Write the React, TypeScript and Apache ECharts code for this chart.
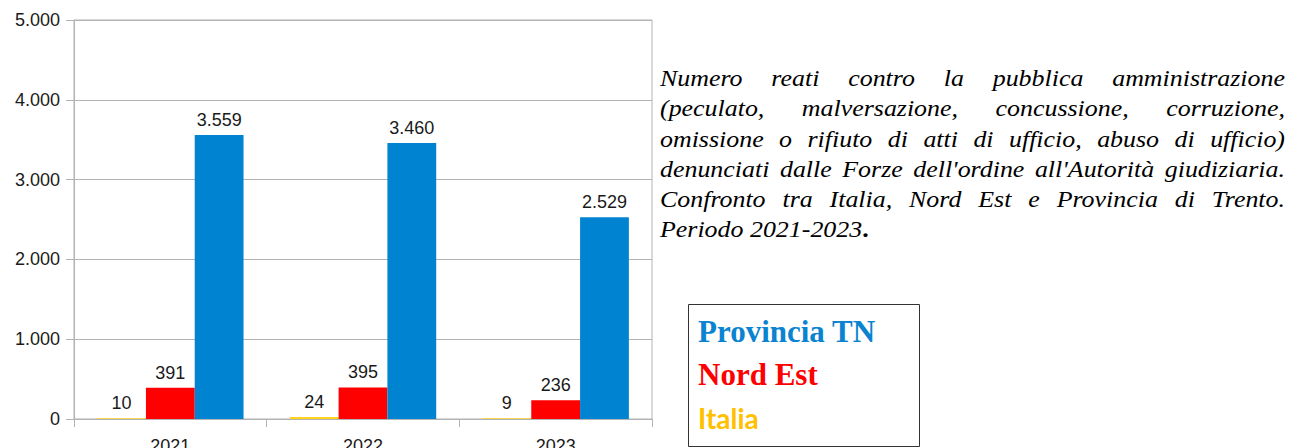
import React, { useEffect, useRef } from 'react';
import * as echarts from 'echarts';

const years = ['2021', '2022', '2023'];
const italia = [10, 24, 9];
const nordEst = [391, 395, 236];
const provinciaTN = [3559, 3460, 2529];
const yMin = 0;
const yMax = 5000;
const yInterval = 1000;

const captionLines = [
  'Numero reati contro la pubblica amministrazione',
  '(peculato, malversazione, concussione, corruzione,',
  'omissione o rifiuto di atti di ufficio, abuso di ufficio)',
  "denunciati dalle Forze dell'ordine all'Autorità giudiziaria.",
  'Confronto tra Italia, Nord Est e Provincia di Trento.',
  'Periodo 2021-2023',
];
const legendItems = [
  { text: 'Provincia TN', color: '#0a84d0', family: '"Liberation Serif", serif', size: 31, y: 331 },
  { text: 'Nord Est', color: '#ff0000', family: '"Liberation Serif", serif', size: 31, y: 374 },
  { text: 'Italia', color: '#ffc000', family: 'Lato, "Open Sans", sans-serif', size: 28, y: 418 },
];

const fmt = (v: number) => String(v).replace(/\B(?=(\d{3})+(?!\d))/g, '.');

function measure(text: string, font: string): number {
  const ctx = document.createElement('canvas').getContext('2d');
  if (!ctx) return text.length * 10;
  ctx.font = font;
  return ctx.measureText(text).width;
}

function buildCaption(): any[] {
  const els: any[] = [];
  const fontSize = 24;
  const sx = 1.08;
  const family = '"Liberation Serif", serif';
  const font = `italic ${fontSize}px "Liberation Serif"`;
  const left = 660;
  const right = 1285;
  const W = right - left;
  const y0 = 78;
  const step = 30.2;
  captionLines.forEach((line, i) => {
    const y = y0 + step * i;
    const last = i === captionLines.length - 1;
    if (last) {
      els.push({
        type: 'text', x: left, y, scaleX: sx,
        style: { text: line, fontSize, fontFamily: family, fontStyle: 'italic', fill: '#000', verticalAlign: 'middle' },
      });
      const w = measure(line, font) * sx;
      els.push({
        type: 'text', x: left + w, y, scaleX: sx,
        style: { text: '.', fontSize, fontFamily: family, fontWeight: 'bold', fill: '#000', verticalAlign: 'middle' },
      });
      return;
    }
    const words = line.split(' ');
    const widths = words.map((w) => measure(w, font) * sx);
    const total = widths.reduce((a, b) => a + b, 0);
    const gap = words.length > 1 ? (W - total) / (words.length - 1) : 0;
    let x = left;
    words.forEach((w, j) => {
      els.push({
        type: 'text', x, y, scaleX: sx,
        style: { text: w, fontSize, fontFamily: family, fontStyle: 'italic', fill: '#000', verticalAlign: 'middle' },
      });
      x += widths[j] + gap;
    });
  });
  return els;
}

export default function App() {
  const ref = useRef<HTMLDivElement>(null);
  useEffect(() => {
    if (!ref.current) return;
    const chart = echarts.init(ref.current, undefined, { renderer: 'svg' });
    const labelStyle = {
      show: true,
      position: 'top',
      distance: 6,
      fontSize: 18,
      fontFamily: '"Liberation Sans", Arial, sans-serif',
      color: '#1a1a1a',
      formatter: (p: any) => fmt(p.value),
    };
    const legendGraphics = [
      {
        type: 'rect',
        shape: { x: 688.5, y: 304.5, width: 231, height: 142 },
        style: { fill: '#fff', stroke: '#333', lineWidth: 1 },
      },
      ...legendItems.map((it) => ({
        type: 'text',
        x: 698,
        y: it.y,
        style: {
          text: it.text,
          fontSize: it.size,
          fontFamily: it.family,
          fontWeight: 'bold',
          fill: it.color,
          verticalAlign: 'middle',
        },
      })),
    ];
    chart.setOption({
      animation: false,
      backgroundColor: '#fff',
      grid: {
        left: 74, right: 637, top: 20, bottom: 29,
        containLabel: false,
        outerBoundsMode: 'none',
        show: true, borderColor: '#b3b3b3', borderWidth: 1,
      },
      xAxis: {
        type: 'category',
        data: years,
        boundaryGap: true,
        axisLine: { show: true, lineStyle: { color: '#b3b3b3' } },
        axisTick: { show: true, length: 8, lineStyle: { color: '#b3b3b3' } },
        axisLabel: {
          fontSize: 18, margin: 18, color: '#1a1a1a',
          fontFamily: '"Liberation Sans", Arial, sans-serif',
        },
      },
      yAxis: {
        type: 'value',
        min: yMin, max: yMax, interval: yInterval,
        axisLine: { show: true, lineStyle: { color: '#b3b3b3' } },
        axisTick: { show: true, length: 8, lineStyle: { color: '#b3b3b3' } },
        splitLine: { show: true, lineStyle: { color: '#b3b3b3' } },
        axisLabel: {
          fontSize: 18, margin: 14, color: '#1a1a1a',
          fontFamily: '"Liberation Sans", Arial, sans-serif',
          formatter: (v: number) => fmt(v),
        },
      },
      series: [
        { name: 'Italia', type: 'bar', data: italia, itemStyle: { color: '#ffd320' }, barGap: '0%', barCategoryGap: '24%', label: labelStyle },
        { name: 'Nord Est', type: 'bar', data: nordEst, itemStyle: { color: '#ff0000' }, barGap: '0%', barCategoryGap: '24%', label: labelStyle },
        { name: 'Provincia TN', type: 'bar', data: provinciaTN, itemStyle: { color: '#0084d1' }, barGap: '0%', barCategoryGap: '24%', label: labelStyle },
      ],
      graphic: [...buildCaption(), ...legendGraphics],
    });
    return () => chart.dispose();
  }, []);
  return (
    <div
      ref={ref}
      style={{ position: 'fixed', left: 0, top: 0, width: 1289, height: 448 }}
    />
  );
}
